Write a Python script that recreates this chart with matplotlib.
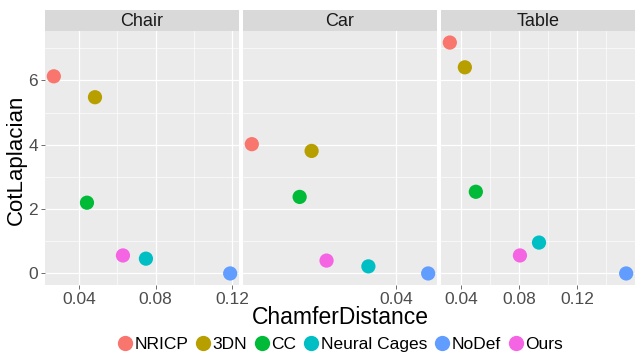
import matplotlib
matplotlib.use("Agg")
import matplotlib.pyplot as plt
from matplotlib.ticker import FixedLocator, FormatStrFormatter
from matplotlib.lines import Line2D

plt.rcParams['font.family'] = ['Liberation Sans', 'DejaVu Sans']

methods = ["NRICP", "3DN", "CC", "Neural Cages", "NoDef", "Ours"]
colors = ["#F8766D", "#B79F00", "#00BA38", "#00BFC4", "#619CFF", "#F564E3"]
panels = ["Chair", "Car", "Table"]

chair_cd = [0.0269, 0.0484, 0.0442, 0.0750, 0.1190, 0.0630]
chair_lap = [6.13, 5.48, 2.20, 0.46, 0.00, 0.56]
car_cd = [0.0255, 0.0315, 0.0303, 0.0372, 0.0432, 0.0330]
car_lap = [4.02, 3.81, 2.38, 0.22, 0.00, 0.40]
table_cd = [0.0320, 0.0424, 0.0500, 0.0937, 0.1540, 0.0805]
table_lap = [7.18, 6.41, 2.54, 0.96, 0.00, 0.56]

x_breaks = [0.04, 0.08, 0.12]
x_minor = [0.02, 0.06, 0.10, 0.14]
y_breaks = [0, 2, 4, 6]
y_minor = [1, 3, 5, 7]

data = [(chair_cd, chair_lap), (car_cd, car_lap), (table_cd, table_lap)]

W, H = 636, 356
fig = plt.figure(figsize=(W / 100, H / 100), dpi=100)

all_y = chair_lap + car_lap + table_lap
ylo, yhi = min(all_y), max(all_y)
ypad = (yhi - ylo) * 0.05

lefts = [45, 243, 441]
pw = 194
top, bottom = 31, 285
strip_top = 10

for i, (name, (xs, ys)) in enumerate(zip(panels, data)):
    ax = fig.add_axes([lefts[i] / W, (H - bottom) / H, pw / W, (bottom - top) / H])
    ax.set_facecolor("#EBEBEB")
    for s in ax.spines.values():
        s.set_visible(False)
    xpad = (max(xs) - min(xs)) * 0.05
    ax.set_xlim(min(xs) - xpad, max(xs) + xpad)
    ax.set_ylim(ylo - ypad, yhi + ypad)

    ax.xaxis.set_major_locator(FixedLocator(x_breaks))
    if name != "Car":
        ax.xaxis.set_minor_locator(FixedLocator(x_minor))
    else:
        ax.xaxis.set_minor_locator(FixedLocator([]))
    ax.xaxis.set_major_formatter(FormatStrFormatter("%.2f"))
    ax.yaxis.set_major_locator(FixedLocator(y_breaks))
    ax.yaxis.set_minor_locator(FixedLocator(y_minor))

    ax.grid(which="major", color="white", linewidth=0.9)
    ax.grid(which="minor", color="white", linewidth=0.45)
    ax.set_axisbelow(True)
    ax.tick_params(which="major", length=3, width=0.5, color="#333333",
                   labelsize=12.5, labelcolor="#4D4D4D", pad=2)
    ax.tick_params(which="minor", length=0)
    if i > 0:
        ax.tick_params(axis="y", which="both", left=False, labelleft=False)

    for x, y, c in zip(xs, ys, colors):
        ax.scatter(x, y, s=105, color=c, edgecolors="none", zorder=3)

    sax = fig.add_axes([lefts[i] / W, (H - top) / H, pw / W, (top - strip_top) / H])
    sax.set_facecolor("#D9D9D9")
    sax.set_xticks([])
    sax.set_yticks([])
    for s in sax.spines.values():
        s.set_visible(False)
    sax.text(0.5, 0.45, name, ha="center", va="center", fontsize=13,
             color="#1A1A1A", transform=sax.transAxes)

fig.text(16 / W, 1 - 160 / H, "CotLaplacian", rotation=90, ha="center",
         va="center", fontsize=16)
fig.text(340 / W, 1 - 317 / H, "ChamferDistance", ha="center", va="center",
         fontsize=16.5)

handles = [Line2D([], [], marker="o", linestyle="none", markersize=11,
                  markerfacecolor=c, markeredgecolor="none") for c in colors]
fig.legend(handles, methods, loc="center", bbox_to_anchor=(340 / W, 1 - 344 / H),
           ncol=6, frameon=False, fontsize=12.5, handlelength=0.9,
           handletextpad=0.1, columnspacing=0.4, borderpad=0)

fig.savefig("out.png", dpi=100)
